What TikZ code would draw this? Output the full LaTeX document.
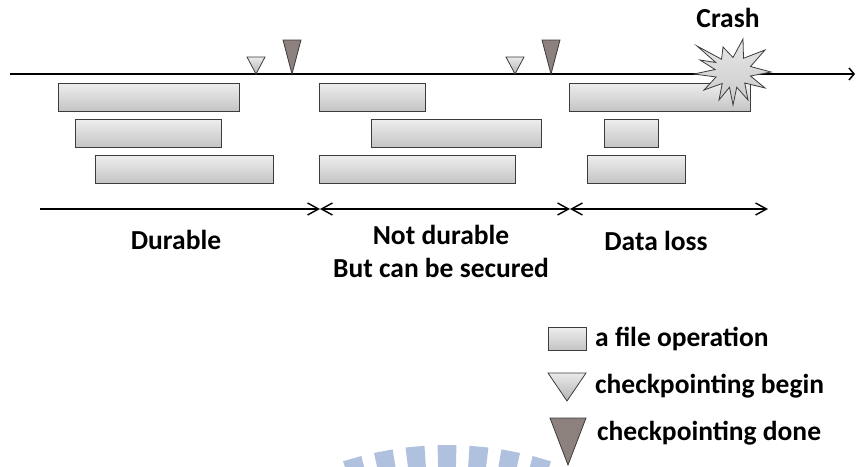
\documentclass[tikz,border=0pt]{standalone}
\usepackage{fontspec}
\setmainfont{Carlito}
\usetikzlibrary{arrows.meta}
\definecolor{opTop}{HTML}{EEEEEE}
\definecolor{opBot}{HTML}{C4C4C4}
\definecolor{edge}{HTML}{3C3C3C}
\definecolor{cpBeginTop}{HTML}{EAEAEA}
\definecolor{cpBeginBot}{HTML}{B4B4B4}
\definecolor{cpDone}{HTML}{8C817D}
\definecolor{crashTop}{HTML}{E6E6E6}
\definecolor{crashBot}{HTML}{CACACA}
\definecolor{logoBlue}{RGB}{176,193,224}

\begin{document}
\begin{tikzpicture}[x=1pt,y=-1pt,
  opbox/.style={draw=edge, line width=0.9pt, top color=opTop, bottom color=opBot,
    inner sep=0pt, outer sep=0pt, anchor=north west},
  cpbegin/.style={draw=edge, line width=0.8pt, top color=cpBeginTop, bottom color=cpBeginBot},
  cpdone/.style={draw=edge, line width=0.8pt, fill=cpDone},
  crash/.style={draw=edge, line width=0.8pt, top color=crashTop, bottom color=crashBot},
  timeline/.style={line width=2.8pt, line cap=butt,
    -{Straight Barb[length=5pt,width=12pt,line width=1.5pt]}},
  spanarrow/.style={line width=1.4pt,
    {Straight Barb[length=11pt,width=12pt,line width=1.4pt]}-{Straight Barb[length=11pt,width=12pt,line width=1.4pt]}},
  endarrow/.style={line width=1.4pt,
    -{Straight Barb[length=11pt,width=12pt,line width=1.4pt]}},
  lbl/.style={font=\fontsize{27.5}{31}\selectfont\bfseries, inner sep=0pt},
  legend/.style={lbl, anchor=west},
]
\useasboundingbox (0,0) rectangle (856,466);

% faint logo arc along the lower edge
\begin{scope}
  \clip (0,0) rectangle (856,466);
  \foreach \k in {-3,...,3}{
    \pgfmathsetmacro\a{270+5.4*\k}
    \fill[logoBlue, shift={(447,785)}]
      (\a-1.6:300) -- (\a+1.6:300) -- (\a+1.6:340) -- (\a-1.6:340) -- cycle;
  }
\end{scope}

% time axis
\coordinate (t0) at (10,74);
\coordinate (t1) at (855,74);
\draw[timeline] (t0) -- (t1);

% file operations, first interval
\node[opbox, minimum width=181pt, minimum height=28pt] (op11) at (58,83) {};
\node[opbox, minimum width=146pt, minimum height=28pt] (op12) at (75,119) {};
\node[opbox, minimum width=178pt, minimum height=28pt] (op13) at (95,155) {};
% second interval
\node[opbox, minimum width=106pt, minimum height=28pt] (op21) at (319,83) {};
\node[opbox, minimum width=170pt, minimum height=28pt] (op22) at (371,119) {};
\node[opbox, minimum width=196pt, minimum height=28pt] (op23) at (319,155) {};
% third interval
\node[opbox, minimum width=181pt, minimum height=28pt] (op31) at (569,83) {};
\node[opbox, minimum width=54pt, minimum height=28pt] (op32) at (604,119) {};
\node[opbox, minimum width=98pt, minimum height=28pt] (op33) at (587,155) {};

% checkpoint markers on the axis
\draw[cpbegin] (247,57) -- (265,57) -- (256,74) -- cycle;
\draw[cpdone] (283,40) -- (301,40) -- (292,74) -- cycle;
\draw[cpbegin] (506,57) -- (524,57) -- (515,74) -- cycle;
\draw[cpdone] (542,40) -- (560,40) -- (551,74) -- cycle;

% crash burst
\draw[crash] (697,46) -- (721.5,59.25) -- (723,47) -- (733,57.5) -- (743,39)
  -- (743.5,58.25) -- (765,50) -- (750.5,66.5) -- (771,72) -- (750.5,76)
  -- (765,88) -- (744.75,83) -- (748,100) -- (736.75,87.25) -- (733,105)
  -- (729.5,87.25) -- (719,100) -- (722.25,83.5) -- (704,90) -- (716,77)
  -- (694,74) -- (715,69.5) -- (700,60) -- (715.75,62.5) -- cycle;
\node[lbl] (crashlbl) at (728,18) {Crash};

% durability spans
\coordinate (s0) at (40,209);
\coordinate (s1) at (320,209);
\coordinate (s2) at (570,209);
\coordinate (s3) at (768,209);
\draw[endarrow] (s0) -- (s1);
\draw[spanarrow] (s1) -- (s2);
\draw[spanarrow] (s2) -- (s3);
\node[lbl] (durable) at (176,240) {Durable};
\node[lbl] (notdur) at (441,235) {Not durable};
\node[lbl] (secured) at (441,268) {But can be secured};
\node[lbl] (loss) at (656,241) {Data loss};

% legend
\node[opbox, minimum width=38pt, minimum height=23pt] (keyop) at (548,327) {};
\draw[cpbegin] (548,373) -- (586,373) -- (567,401) -- cycle;
\draw[cpdone] (550,418) -- (586,418) -- (568,465) -- cycle;
\node[legend] (keyoptxt) at (595,339) {a file operation};
\node[legend] (keybegin) at (595,386) {checkpointing begin};
\node[legend] (keydone) at (597,433) {checkpointing done};
\end{tikzpicture}
\end{document}
